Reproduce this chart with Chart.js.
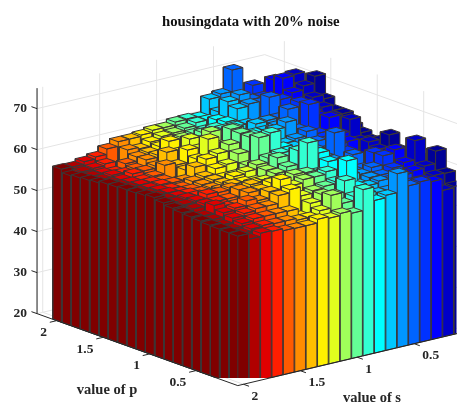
<!DOCTYPE html>
<html><head><meta charset="utf-8">
<style>html,body{margin:0;padding:0;background:#fff}#w{width:457px;height:404px;position:relative}</style>
<script src="https://cdn.jsdelivr.net/npm/chart.js@4"></script></head>
<body><div id="w"><canvas id="c" width="457" height="404"></canvas></div>
<script>
const titleText="housingdata with 20% noise";
const pName="value of p", sName="value of s";
const zTicks=[20,30,40,50,60,70];
const pTicks=[2,1.5,1,0.5];
const sTicks=[2,1.5,1,0.5];
const columnColors=["#800000","#b00000","#e00000","#ff1e00","#ff5a00","#ff8c00","#ffbe00","#fff000","#e1ff1e","#a0ff5a","#64ff96","#32ffd2","#00ffff","#00c8ff","#0096ff","#0064ff","#0032ff","#0000ff","#0000c8","#000096"];
// one list per p row (p = 2 down to 0.1); each has one height per s column (s = 2 down to 0.1)
const p20=[57.3,57.2,57.8,58.3,59.6,60.7,60.7,61.0,61.5,61.5,62.2,62.3,62.0,65.8,66.4,71.6,62.0,64.0,65.0,63.0];
const p19=[56.5,56.8,57.0,57.4,56.0,59.5,59.1,60.1,60.8,61.0,61.5,62.2,62.2,63.5,65.0,65.5,68.0,65.0,66.0,65.0];
const p18=[56.8,56.5,56.6,56.3,57.6,58.6,59.0,59.8,60.2,60.6,61.0,61.2,63.0,66.8,67.8,66.0,66.0,69.5,68.0,66.0];
const p17=[57.0,56.5,56.9,56.8,57.2,58.7,59.2,61.9,60.5,61.0,62.0,62.5,63.3,65.9,66.4,66.0,66.5,70.7,71.0,67.0];
const p16=[57.2,56.6,56.6,57.4,57.5,58.0,60.7,60.0,62.6,61.5,62.0,63.0,63.0,63.0,62.3,68.2,67.0,68.0,69.0,70.7];
const p15=[57.7,56.8,56.8,56.7,57.0,59.0,58.4,61.4,61.0,64.5,63.0,64.0,62.0,63.8,64.0,64.0,65.0,66.0,67.0,66.0];
const p14=[57.8,57.0,57.0,57.0,56.8,55.7,58.0,60.0,64.2,62.0,65.3,63.0,63.0,63.0,63.5,66.9,67.9,65.0,65.4,64.0];
const p13=[58.0,57.0,57.0,57.2,57.0,57.0,59.5,60.8,61.5,63.0,65.1,64.0,62.0,64.0,65.2,62.8,68.2,64.5,64.0,64.0];
const p12=[58.0,57.2,57.3,57.0,56.7,57.5,58.0,59.3,59.7,61.6,65.0,63.0,61.5,61.5,62.0,63.1,62.0,65.2,63.0,62.0];
const p11=[58.2,57.5,57.5,57.0,57.0,57.5,58.0,58.0,58.0,59.5,65.7,66.2,62.0,61.5,61.0,61.5,61.0,62.0,64.9,61.0];
const p10=[58.5,57.5,57.5,57.5,57.2,57.5,58.0,59.0,59.5,60.5,61.5,62.0,60.5,60.0,61.0,60.0,60.8,61.0,60.5,60.0];
const p09=[58.0,57.5,57.8,57.8,57.5,58.0,58.5,58.5,58.1,60.0,62.4,61.0,60.0,60.5,60.0,65.2,60.0,57.8,61.0,60.7];
const p08=[57.5,57.7,58.0,58.9,58.7,59.1,58.5,59.0,59.0,60.0,61.0,64.3,60.0,59.5,60.0,59.0,59.5,58.5,60.0,62.9];
const p07=[57.2,57.5,58.0,58.0,58.0,59.5,60.1,58.2,59.5,60.0,60.0,67.0,63.9,59.0,59.0,61.5,59.0,59.0,59.0,60.0];
const p06=[57.0,56.6,58.5,57.5,57.5,59.6,59.7,60.7,59.0,61.4,61.2,60.5,62.6,59.0,58.5,59.0,62.1,60.0,60.0,59.5];
const p05=[56.8,56.5,57.5,58.0,59.1,58.5,60.0,62.3,60.2,61.0,61.0,61.6,60.0,59.5,59.0,60.0,62.2,63.0,60.0,60.0];
const p04=[56.6,56.0,57.0,57.5,58.0,58.0,59.9,60.7,58.5,59.1,59.5,60.0,64.4,58.0,59.0,59.0,60.0,60.7,65.4,60.0];
const p03=[56.5,55.8,56.5,57.0,57.0,57.0,56.9,55.0,57.5,59.0,58.3,61.0,59.0,58.5,59.0,58.5,59.0,59.5,60.0,63.0];
const p02=[56.4,55.5,56.0,56.2,56.0,56.0,55.5,55.5,56.5,59.6,57.0,58.0,58.0,57.5,57.5,57.5,58.0,58.0,58.5,58.4];
const p01=[56.4,55.0,55.8,55.6,55.1,55.0,55.0,55.9,55.5,56.0,55.4,60.5,57.2,57.8,62.4,58.8,59.1,58.5,55.7,56.0];
const rows=[p20,p19,p18,p17,p16,p15,p14,p13,p12,p11,p10,p09,p08,p07,p06,p05,p04,p03,p02,p01];

// oblique view: horizontal position and the height position that share the two chart scales
const view={x0:52,xi:9.3,xj:11.4,g0:319,gi:3.33,gj:-2.7,zpx:4.1,zBase:20,zTop:75,zFloorY:313.5,plotLeft:45};
const X=(i,j)=>view.x0+view.xi*i+view.xj*j;
const Y=(i,j,z)=>z+(view.zFloorY-(view.g0+view.gi*i+view.gj*j))/view.zpx;
const P=(i,j,z)=>({x:X(i,j),y:Y(i,j,z)});
const iOfP=p=>(2-p)*10+0.5, jOfS=s=>(2-s)*10+0.5;
const box={iBack:-1.61,iFront:20,jLeft:0,jBack:20};
const gap=0.03;
function seg(pts,color,width){return {data:pts,showLine:true,fill:false,clip:false,borderColor:color,borderWidth:width,pointRadius:0,borderJoinStyle:'round'};}
const barSets=[];
for(let i=rows.length-1;i>=0;i--){for(let j=0;j<20;j++){
  const z=rows[i][j],a=i+gap,b=i+1-gap,c=j+gap,d=j+1-gap,lo=view.zBase;
  const BL=P(a,c,lo),BF=P(b,c,lo),BR=P(b,d,lo),TL=P(a,c,z),TF=P(b,c,z),TR=P(b,d,z),TB=P(a,d,z);
  barSets.push({data:[BL,BF,BR,TR,TB,TL,BL,BF,TF,TR,TF,TL,BL],showLine:true,fill:'shape',backgroundColor:columnColors[j],borderColor:'#3c3636',borderWidth:1,pointRadius:0,borderJoinStyle:'round'});
}}
const gridC='#e4e4e4',axC='#262626';
const frontSets=[],backSets=[];
// axis lines and tick marks
frontSets.push(seg([P(box.iBack,box.jLeft,view.zBase),P(box.iBack,box.jLeft,view.zTop)],'#1a1a1a',1));
frontSets.push(seg([P(box.iBack,box.jLeft,view.zBase),P(box.iFront,box.jLeft,view.zBase),P(box.iFront,box.jBack,view.zBase)],axC,1));
zTicks.forEach(z=>frontSets.push(seg([P(box.iBack,box.jLeft,z),P(box.iBack-0.6,box.jLeft,z)],axC,1)));
pTicks.forEach(p=>frontSets.push(seg([P(iOfP(p),box.jLeft,view.zBase),P(iOfP(p),box.jLeft-0.6,view.zBase)],axC,1)));
sTicks.forEach(s=>frontSets.push(seg([P(box.iFront,jOfS(s),view.zBase),P(box.iFront+0.6,jOfS(s),view.zBase)],axC,1)));
// back walls and floor
zTicks.forEach(z=>backSets.push(seg([P(box.iBack,box.jLeft,z),P(box.iBack,box.jBack,z),P(box.iFront,box.jBack,z)],gridC,1)));
sTicks.forEach(s=>{backSets.push(seg([P(box.iFront,jOfS(s),view.zBase),P(box.iBack,jOfS(s),view.zBase),P(box.iBack,jOfS(s),view.zTop)],gridC,1));});
pTicks.forEach(p=>{backSets.push(seg([P(iOfP(p),box.jLeft,view.zBase),P(iOfP(p),box.jBack,view.zBase),P(iOfP(p),box.jBack,view.zTop)],gridC,1));});

const labelPlugin={id:'axisText',afterDatasetsDraw(chart){
  const {ctx,scales:{x,y}}=chart;
  const at=pt=>[x.getPixelForValue(pt.x),y.getPixelForValue(pt.y)];
  ctx.save();ctx.fillStyle=axC;ctx.font='bold 13.5px "Liberation Serif"';ctx.textBaseline='middle';
  ctx.textAlign='right';
  pTicks.forEach(p=>{const [a,b]=at(P(iOfP(p),box.jLeft,view.zBase));ctx.fillText(String(p),a-9.6,b+12);});
  ctx.textAlign='left';
  sTicks.forEach(s=>{const [a,b]=at(P(box.iFront,jOfS(s),view.zBase));ctx.fillText(String(s),a+8,b+12);});
  ctx.textAlign='center';ctx.font='bold 14.5px "Liberation Serif"';
  ctx.fillText(pName,107,390);ctx.fillText(sName,372,398);
  ctx.restore();
}};
const chart=new Chart(document.getElementById('c'),{
  type:'scatter',
  data:{datasets:[...frontSets,...barSets,...backSets]},
  plugins:[labelPlugin],
  options:{
    responsive:false,animation:false,events:[],
    layout:{padding:0},
    plugins:{legend:{display:false},tooltip:{enabled:false},
      title:{display:true,fullSize:false,text:titleText,color:'#111',font:{family:'Liberation Serif',weight:'bold',size:14.75,lineHeight:1.2},padding:{top:13,bottom:0}}},
    scales:{
      x:{type:'linear',min:view.plotLeft,max:457,display:false},
      y:{type:'linear',position:'left',min:0,max:90,
        afterBuildTicks(s){s.ticks=zTicks.map(v=>({value:v}));},
        afterFit(s){s.width=view.plotLeft;},
        border:{display:false},grid:{display:false,drawTicks:false},
        ticks:{padding:18,color:axC,font:{family:'Liberation Serif',weight:'bold',size:13.5}}}
    }
  }
});
// fit the height scale to the plot area that the layout produced
const area=chart.chartArea;
chart.options.scales.y.max=20+(view.zFloorY-area.top)/view.zpx;
chart.options.scales.y.min=20-(area.bottom-view.zFloorY)/view.zpx;
chart.update();
</script></body></html>
